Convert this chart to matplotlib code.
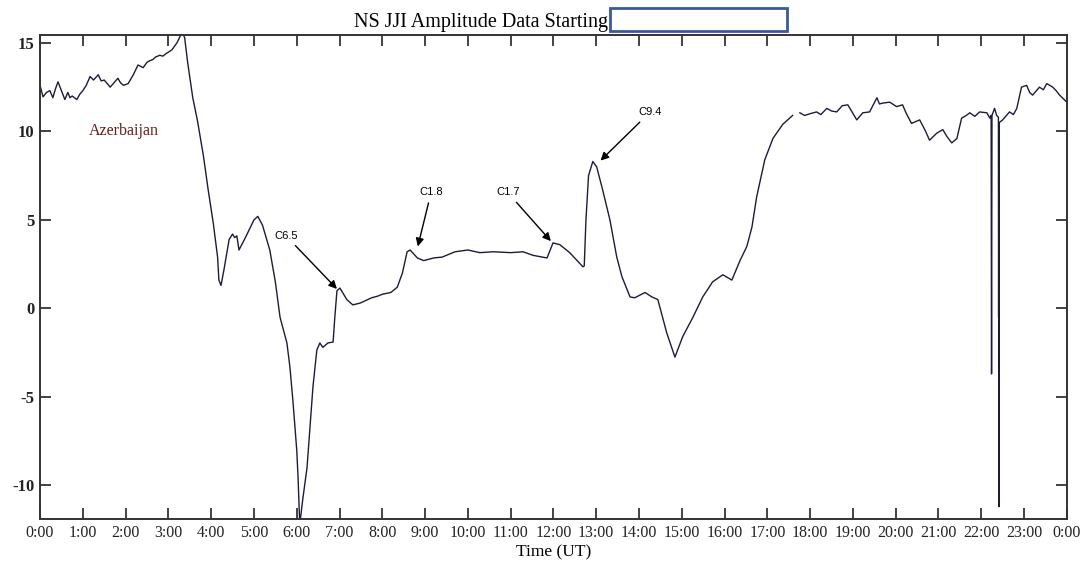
import numpy as np
import matplotlib
matplotlib.use("Agg")
import matplotlib.pyplot as plt
from matplotlib.patches import Rectangle

# time in hours (UT), amplitude
hours = [
    0.00, 0.07, 0.15, 0.23, 0.30, 0.36, 0.42, 0.50, 0.58, 0.65, 0.70, 0.75, 0.86, 0.93, 1.00,
    1.08, 1.17, 1.25, 1.36, 1.43, 1.50, 1.64, 1.75, 1.82, 1.88, 1.95, 2.06, 2.18, 2.29,
    2.41, 2.50, 2.57, 2.63, 2.70, 2.80, 2.87, 2.95, 3.08, 3.20, 3.32, 3.38, 3.45, 3.57,
    3.68, 3.82, 3.93, 4.05, 4.15, 4.18, 4.23, 4.30, 4.42, 4.50, 4.55, 4.60,
    4.65, 4.80, 5.00, 5.09, 5.20, 5.37, 5.50, 5.61, 5.77, 5.84, 5.91, 6.00,
    6.03, 6.07, 6.14, 6.24, 6.31, 6.38, 6.47, 6.54, 6.61, 6.73, 6.85, 6.89,
    6.94, 7.01, 7.17, 7.31, 7.48, 7.75, 7.90, 8.00, 8.20, 8.35, 8.47, 8.58, 8.65,
    8.82, 8.97, 9.20, 9.40, 9.70, 10.00, 10.28, 10.60, 11.00, 11.29, 11.52, 11.85,
    11.99, 12.15, 12.38, 12.69, 12.72, 12.76, 12.82, 12.92, 13.01, 13.15, 13.32, 13.48,
    13.60, 13.79, 13.90, 14.02, 14.14, 14.30, 14.44, 14.65, 14.84, 15.02, 15.26, 15.49,
    15.72, 15.96, 16.17, 16.36, 16.52, 16.64, 16.75, 16.94, 17.13, 17.36, 17.59, 17.66,
    17.76, 17.87, 18.00, 18.15, 18.25, 18.39, 18.50, 18.62, 18.75, 18.88, 19.09, 19.23, 19.39, 19.56, 19.62, 19.70, 19.86,
    20.02, 20.16, 20.25, 20.37, 20.56, 20.70, 20.79, 20.96, 21.10, 21.20, 21.31, 21.43, 21.54, 21.65, 21.73, 21.85, 21.96,
    22.13, 22.20, 22.23, 22.24, 22.25, 22.31, 22.36, 22.40, 22.405, 22.41, 22.415, 22.42,
    22.50, 22.66, 22.75, 22.83, 22.94, 23.06, 23.13, 23.20, 23.36, 23.45, 23.53, 23.67, 23.75, 23.83, 24.00,
]
amplitude = [
    12.6, 11.95, 12.2, 12.3, 11.9, 12.4, 12.8, 12.3, 11.8, 12.2, 11.9, 12.0, 11.8, 12.1, 12.3,
    12.6, 13.1, 12.9, 13.2, 12.85, 12.9, 12.5, 12.8, 13.0, 12.75, 12.6, 12.7, 13.2, 13.75,
    13.6, 13.9, 14.0, 14.05, 14.2, 14.3, 14.25, 14.4, 14.6, 15.0, 15.6, 15.3, 13.9, 11.9,
    10.6, 8.6, 6.7, 4.8, 2.9, 1.6, 1.3, 2.2, 3.9, 4.2, 4.0, 4.1,
    3.3, 4.0, 5.0, 5.2, 4.7, 3.3, 1.5, -0.5, -1.95, -3.3, -5.2, -8.0,
    -9.5, -12.2, -10.8, -9.0, -6.7, -4.4, -2.35, -1.95, -2.2, -1.95, -1.9, -0.5,
    1.0, 1.15, 0.5, 0.2, 0.3, 0.6, 0.7, 0.8, 0.9, 1.2, 2.0, 3.2, 3.3,
    2.85, 2.7, 2.85, 2.9, 3.2, 3.3, 3.15, 3.2, 3.15, 3.2, 3.0, 2.85,
    3.7, 3.6, 3.15, 2.35, 2.4, 5.0, 7.5, 8.3, 8.0, 6.7, 5.0, 2.9,
    1.8, 0.65, 0.6, 0.75, 0.9, 0.65, 0.5, -1.4, -2.75, -1.6, -0.5, 0.65,
    1.5, 1.9, 1.6, 2.7, 3.5, 4.6, 6.3, 8.4, 9.6, 10.4, 10.9, np.nan,
    11.05, 10.9, 11.0, 11.1, 10.95, 11.3, 11.15, 11.1, 11.45, 11.5, 10.65, 11.05, 11.1, 11.9, 11.55, 11.6, 11.65,
    11.4, 11.5, 11.0, 10.45, 10.65, 10.0, 9.5, 9.9, 10.1, 9.7, 9.35, 9.6, 10.75, 10.9, 11.05, 10.85, 11.1,
    11.05, 10.75, 10.9, -3.7, 10.9, 11.3, 10.9, 10.8, -0.5, 10.0, -11.2, 10.5,
    10.65, 11.1, 10.95, 11.3, 12.5, 12.6, 12.2, 12.05, 12.5, 12.35, 12.7, 12.5, 12.3, 12.05, 11.65,
]

tick_hours = list(range(0, 25))
tick_labels = ["%d:00" % (h % 24) for h in tick_hours]
y_ticks = [-10, -5, 0, 5, 10, 15]

flares = ["C6.5", "C1.8", "C1.7", "C9.4"]
flare_tips = [(6.94, 1.1), (8.83, 3.5), (11.94, 3.8), (13.1, 8.35)]
flare_text = [(5.75, 4.1), (9.14, 6.55), (10.93, 6.55), (14.25, 11.07)]

serif = "Liberation Serif"
sans = "Liberation Sans"

fig = plt.figure(figsize=(10.82, 5.63), dpi=100)
ax = fig.add_axes([0.037, 0.078, 0.949, 0.860])

ax.plot(hours, amplitude, color="#1c1c3a", lw=1.0)

ax.set_xlim(0, 24)
ax.set_ylim(-11.9, 15.45)
ax.set_xticks(tick_hours)
ax.set_xticklabels(tick_labels, fontfamily=serif, fontsize=11.5)
ax.set_yticks(y_ticks)
ax.set_yticklabels([str(v) for v in y_ticks], fontfamily=serif, fontsize=12,
                   fontweight="bold")
ax.tick_params(direction="in", length=8, width=1.2, top=True, right=True,
               pad=4, colors="#222222")
for s in ax.spines.values():
    s.set_linewidth(1.4)
    s.set_color("#333333")

ax.set_xlabel("Time (UT)", fontfamily=serif, fontsize=12.5, labelpad=3)

ax.text(1.96, 10.0, "Azerbaijan", color="#6a1b1b", fontfamily=serif,
        fontsize=11.5, ha="center", va="center")

for name, tip, txt in zip(flares, flare_tips, flare_text):
    ax.annotate(name, xy=tip, xytext=txt, fontfamily=sans, fontsize=8,
                ha="center", va="center",
                arrowprops=dict(arrowstyle="-|>", color="black", lw=1,
                                mutation_scale=12, shrinkA=2, shrinkB=0))

fig.text(608 / 1082, 1 - 27 / 563, "NS JJI Amplitude Data Starting",
         fontfamily=serif, fontsize=14.5, ha="right", va="baseline")
fig.patches.append(Rectangle((610 / 1082, 1 - 31 / 563), 177 / 1082, 23 / 563,
                             transform=fig.transFigure, facecolor="white",
                             edgecolor="#3a5a9a", lw=2))

fig.savefig("out.png", dpi=100)
